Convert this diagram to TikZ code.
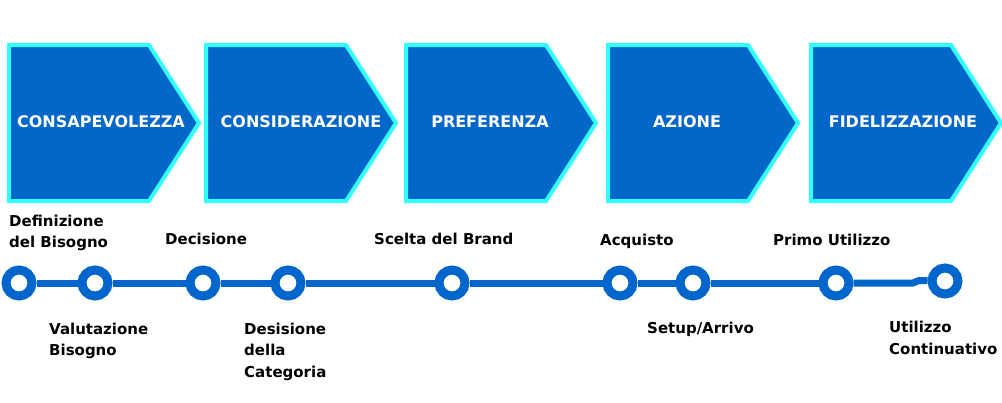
\documentclass[tikz,border=0pt]{standalone}
\usepackage{fontspec}
\setmainfont{DejaVu Sans}
\definecolor{stagefill}{RGB}{3,102,201}
\definecolor{stageedge}{RGB}{51,255,255}
\definecolor{trackblue}{RGB}{0,102,204}
\begin{document}
\begin{tikzpicture}[x=1pt,y=-1pt,
    stage/.style={draw=stageedge,fill=stagefill,line width=4pt,line join=miter},
    stagetext/.style={text=white,font=\fontsize{16}{18}\selectfont\bfseries,inner sep=0pt},
    stop/.style={circle,draw=trackblue,fill=white,line width=9pt,minimum size=26pt,inner sep=0pt},
    track/.style={draw=trackblue,line width=7pt},
    steplabel/.style={anchor=base west,align=left,inner sep=0pt,font=\fontsize{15}{21.5}\selectfont\bfseries}]
  \useasboundingbox (0,0) rectangle (1002,402);

  % phases
  \foreach \n/\l/\tx/\txt in {1/7/101/CONSAPEVOLEZZA, 2/204/301/CONSIDERAZIONE, 3/404/490/PREFERENZA,
                              4/606/687/AZIONE, 5/809/903/FIDELIZZAZIONE} {
    \draw[stage] ({\l+2},45) -- ({\l+142},45) -- ({\l+192},123) -- ({\l+142},201) -- ({\l+2},201) -- cycle;
    \node[stagetext] (s\n) at (\tx,122) {\txt};
  }

  % timeline
  \foreach \n/\x/\y in {1/19/283, 2/95/283, 3/203/283, 4/288/283, 5/452/283,
                        6/620/283, 7/693/283, 8/836/283, 9/945/281}
    \node[stop] (c\n) at (\x,\y) {};
  \foreach \a/\b in {1/2, 2/3, 3/4, 4/5, 5/6, 6/7, 7/8}
    \draw[track] (c\a) -- (c\b);
  \coordinate (jogA) at (913,283);
  \coordinate (jogB) at (919,280.5);
  \draw[track,line join=round] (c8) -- (jogA) -- (jogB) -- (c9);

  % steps (base = last line)
  \node[steplabel] (l1) at (9,247.5) {Definizione\\del Bisogno};
  \node[steplabel] (l2) at (49,355.5) {Valutazione\\Bisogno};
  \node[steplabel] (l3) at (165,244.5) {Decisione};
  \node[steplabel] (l4) at (244,377) {Desisione\\della\\Categoria};
  \node[steplabel] (l5) at (374,244.5) {Scelta del Brand};
  \node[steplabel] (l6) at (600,245) {Acquisto};
  \node[steplabel] (l7) at (647,333.5) {Setup/Arrivo};
  \node[steplabel] (l8) at (773,245) {Primo Utilizzo};
  \node[steplabel] (l9) at (889,354) {Utilizzo\\Continuativo};
\end{tikzpicture}
\end{document}
